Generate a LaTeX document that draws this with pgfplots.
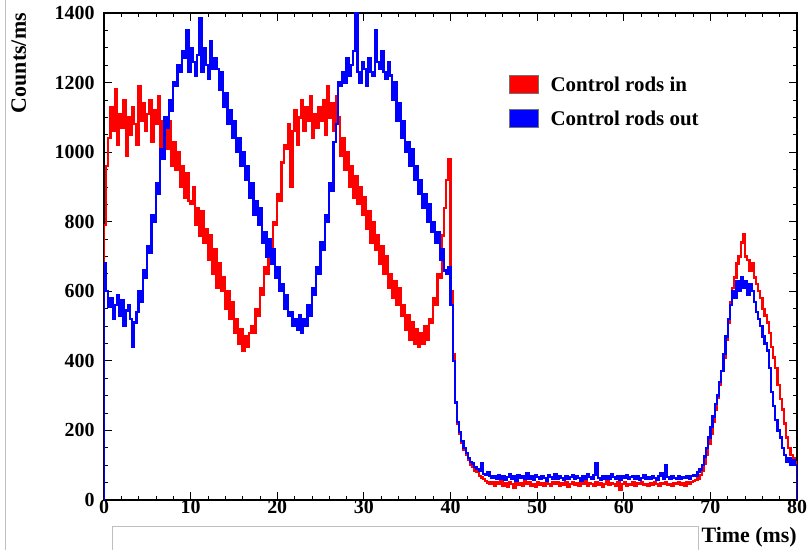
\documentclass[border=0pt]{standalone}
\usepackage{pgfplots}
\usepackage{pgfplotstable}
\usepackage{fontspec}
\setmainfont{Liberation Serif}
\pgfplotsset{compat=1.18}
\pgfplotstableread{
x r b
0.00 0 0
0.00 790 680
0.25 960 600
0.50 1040 555
0.75 1130 580
1.00 1060 520
1.25 1180 560
1.50 1020 590
1.75 1110 530
2.00 1070 575
2.25 1150 500
2.50 990 545
2.75 1100 560
3.00 1050 520
3.25 1130 440
3.50 1080 510
3.75 1020 540
4.00 1190 600
4.25 1090 570
4.50 1140 660
4.75 1060 640
5.00 1110 730
5.25 1150 710
5.50 1030 820
5.75 1120 800
6.00 1080 910
6.25 1160 880
6.50 1000 1010
6.75 1090 980
7.00 1070 1100
7.25 1010 1070
7.50 1090 1150
7.75 960 1120
8.00 1030 1200
8.25 950 1190
8.50 1000 1250
8.75 900 1230
9.00 960 1290
9.25 870 1270
9.50 940 1350
9.75 860 1230
10.00 850 1300
10.25 900 1260
10.50 790 1220
10.75 840 1280
11.00 760 1385
11.25 830 1230
11.50 740 1300
11.75 780 1250
12.00 690 1210
12.25 760 1320
12.50 650 1240
12.75 720 1270
13.00 610 1240
13.25 680 1180
13.50 600 1230
13.75 640 1130
14.00 550 1170
14.25 600 1080
14.50 520 1120
14.75 570 1040
15.00 480 1090
15.25 520 1000
15.50 450 1040
15.75 490 960
16.00 430 1000
16.25 470 920
16.50 440 960
16.75 480 870
17.00 500 910
17.25 480 820
17.50 550 860
17.75 530 790
18.00 610 840
18.25 590 740
18.50 670 770
18.75 650 700
19.00 730 750
19.25 710 680
19.50 800 720
19.75 790 640
20.00 880 670
20.25 860 600
20.50 970 620
20.75 1020 550
21.00 1010 590
21.25 1080 530
21.50 900 540
21.75 1060 500
22.00 1120 520
22.25 1020 490
22.50 1100 530
22.75 1150 480
23.00 1060 520
23.25 1130 500
23.50 1090 560
23.75 1160 530
24.00 1040 610
24.25 1110 590
24.50 1070 670
24.75 1130 650
25.00 1090 740
25.25 1150 720
25.50 1050 820
25.75 1190 800
26.00 1100 910
26.25 1140 890
26.50 1060 1030
26.75 1160 1080
27.00 1100 1200
27.25 990 1190
27.50 1040 1230
27.75 950 1200
28.00 1000 1270
28.25 900 1220
28.50 960 1250
28.75 870 1290
29.00 930 1400
29.25 850 1230
29.50 900 1200
29.75 820 1260
30.00 870 1240
30.25 780 1190
30.50 830 1270
30.75 740 1230
31.00 800 1220
31.25 720 1350
31.50 760 1260
31.75 680 1240
32.00 730 1290
32.25 650 1230
32.50 700 1210
32.75 610 1260
33.00 650 1220
33.25 580 1150
33.50 630 1200
33.75 560 1090
34.00 610 1140
34.25 530 1040
34.50 560 1090
34.75 490 1000
35.00 530 1030
35.25 460 960
35.50 510 1010
35.75 450 920
36.00 490 960
36.25 440 880
36.50 480 920
36.75 450 840
37.00 500 880
37.25 460 800
37.50 520 850
37.75 510 770
38.00 580 800
38.25 560 740
38.50 650 770
38.75 640 690
39.00 760 720
39.25 840 660
39.50 920 650
39.75 980 670
40.00 600 560
40.25 420 400
40.50 280 280
40.75 220 225
41.00 190 195
41.25 165 170
41.50 145 150
41.75 130 135
42.00 115 120
42.25 100 110
42.50 95 105
42.75 85 95
43.00 80 90
43.25 70 85
43.50 65 106
43.75 60 75
44.00 55 72
44.25 50 80
44.50 45 70
44.75 52 65
45.00 40 68
45.25 50 60
45.50 45 72
45.75 55 62
46.00 42 70
46.25 48 58
46.50 38 66
46.75 50 74
47.00 46 60
47.25 35 68
47.50 52 55
47.75 44 72
48.00 48 64
48.25 40 70
48.50 55 60
48.75 45 78
49.00 50 62
49.25 42 68
49.50 47 58
49.75 38 72
50.00 52 66
50.25 44 60
50.50 49 70
50.75 40 64
51.00 55 56
51.25 46 72
51.50 41 66
51.75 50 62
52.00 45 74
52.25 52 60
52.50 40 68
52.75 48 64
53.00 43 58
53.25 50 70
53.50 38 62
53.75 46 66
54.00 52 72
54.25 44 60
54.50 48 68
54.75 41 64
55.00 50 56
55.25 45 70
55.50 55 62
55.75 42 75
56.00 48 66
56.25 46 60
56.50 40 72
56.75 52 105
57.00 44 64
57.25 49 58
57.50 38 70
57.75 47 62
58.00 53 68
58.25 43 60
58.50 48 74
58.75 45 66
59.00 40 62
59.25 51 70
59.50 30 58
59.75 46 68
60.00 50 64
60.25 42 72
60.50 47 60
60.75 44 66
61.00 52 70
61.25 40 62
61.50 48 68
61.75 45 58
62.00 50 64
62.25 43 72
62.50 47 60
62.75 41 66
63.00 49 62
63.25 44 70
63.50 52 64
63.75 46 58
64.00 42 68
64.25 48 76
64.50 45 62
64.75 50 100
65.00 43 66
65.25 47 60
65.50 40 70
65.75 49 64
66.00 45 62
66.25 51 68
66.50 44 60
66.75 48 66
67.00 42 64
67.25 50 70
67.50 46 62
67.75 52 68
68.00 55 72
68.25 58 70
68.50 62 80
68.75 72 88
69.00 85 100
69.25 105 125
69.50 130 150
69.75 160 180
70.00 190 210
70.25 225 240
70.50 260 275
70.75 295 300
71.00 330 340
71.25 370 370
71.50 410 420
71.75 460 470
72.00 510 520
72.25 570 560
72.50 610 600
72.75 640 580
73.00 680 630
73.25 700 600
73.50 740 640
73.75 765 610
74.00 700 630
74.25 690 590
74.50 660 620
74.75 680 600
75.00 640 570
75.25 620 540
75.50 600 520
75.75 580 500
76.00 550 470
76.25 530 450
76.50 510 430
76.75 480 380
77.00 440 310
77.25 410 270
77.50 380 230
77.75 330 200
78.00 290 180
78.25 260 150
78.50 220 130
78.75 180 110
79.00 150 120
79.25 130 100
79.50 120 115
79.75 110 100
80.00 110 100
80.00 0 0
}\datatable
\begin{document}
\begin{tikzpicture}
\useasboundingbox (-104bp,-50bp) rectangle (705bp,500bp);
\begin{axis}[
  at={(0,0)}, anchor=south west,
  scale only axis, width=693bp, height=487bp,
  xmin=0, xmax=80, ymin=0, ymax=1400,
  xtick={0,10,...,80}, ytick={0,200,...,1400},
  minor x tick num=4, minor y tick num=3,
  tick align=inside,
  major tick length=8bp, minor tick length=4bp,
  tick style={black, line width=0.8bp},
  axis line style={black, line width=1.5bp},
  /pgf/number format/assume math mode=true,
  /pgf/number format/1000 sep={},
  ticklabel style={font=\bfseries\fontsize{20}{24}\selectfont},
  xticklabel style={yshift=3bp},
  yticklabel style={xshift=-6bp},
  xlabel={Time (ms)},
  ylabel={Counts/ms},
  label style={font=\bfseries\fontsize{22}{26}\selectfont},
  xlabel style={at={(axis description cs:1,0)}, anchor=north east, yshift=-27bp, inner sep=0pt},
  ylabel style={at={(axis description cs:-0.134,1)}, anchor=north east, inner sep=0pt},
  legend style={at={(rel axis cs:0.58,0.878)}, anchor=north west, draw=none, fill=none,
    font=\bfseries\fontsize{21}{24}\selectfont, row sep=14bp,
    /tikz/every even column/.append style={column sep=0bp}},
  legend cell align=left,
]
\addplot[red, const plot, line width=2.3bp,
  legend image code/.code={\draw[draw=black!55, fill=red, line width=0.5bp] (0bp,-9bp) rectangle (29bp,9bp);}]
  table[x=x, y=r]{\datatable};
\addlegendentry{\hspace{10bp}Control rods in}
\addplot[blue, const plot, line width=2.3bp,
  legend image code/.code={\draw[draw=black!55, fill=blue, line width=0.5bp] (0bp,-9bp) rectangle (29bp,9bp);}]
  table[x=x, y=b]{\datatable};
\addlegendentry{\hspace{10bp}Control rods out}
\end{axis}
\draw[black!25, line width=0.8bp] (8bp,-50bp) -- (8bp,-26bp) -- (594bp,-26bp) -- (594bp,-50bp);
\draw[black!25, line width=0.8bp] (-99bp,-50bp) -- (-99bp,500bp);
\end{tikzpicture}
\end{document}
